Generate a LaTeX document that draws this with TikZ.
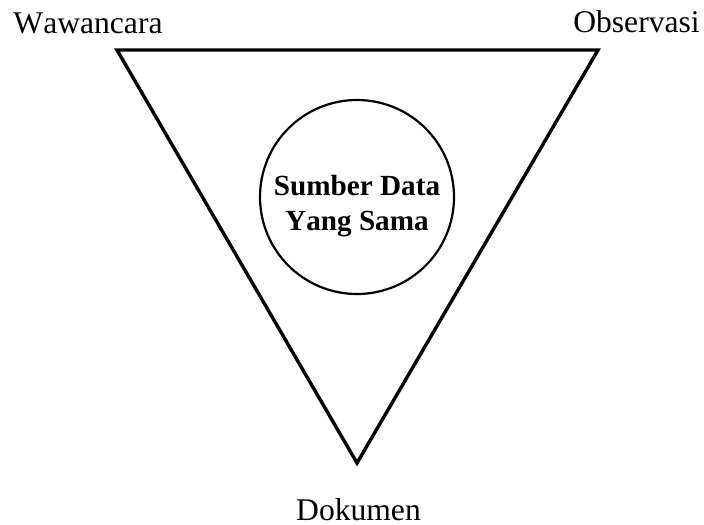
\documentclass[tikz,border=0pt]{standalone}
\usepackage{fontspec}
\setmainfont[Kerning=Off]{Liberation Serif}
\usetikzlibrary{positioning,calc}

\begin{document}
\begin{tikzpicture}[x=0.5pt, y=-0.5pt,
        sisi/.style={draw, line width=1.7pt, line join=miter},
        lingkaran/.style={circle, draw, line width=1.1pt, minimum size=97pt, inner sep=0pt},
        sudut/.style={anchor=base, inner sep=0pt, font=\fontsize{15.8}{19}\selectfont},
        inti/.style={align=center, inner sep=0pt, font=\fontsize{14.6}{17.5}\selectfont\bfseries}]
        \useasboundingbox (0,0) rectangle (704,524);

        % titik sudut segitiga
        \coordinate (wa) at (117,50);
        \coordinate (ob) at (598,50);
        \coordinate (dok) at (357,463);
        \path [sisi] (wa) -- (ob) -- (dok) -- cycle;

        \node [lingkaran] (sumber) at (357,197) {};
        \node [inti] (teks) at ($(sumber)+(0,8.7)$) {Sumber Data\\Yang Sama};

        \node [sudut] (wawancara) at (88,34) {Wawancara};
        \node [sudut] (observasi) at (636.5,33) {Observasi};
        \node [sudut] (dokumen) at (358.5,520) {Dokumen};
    \end{tikzpicture}
\end{document}
